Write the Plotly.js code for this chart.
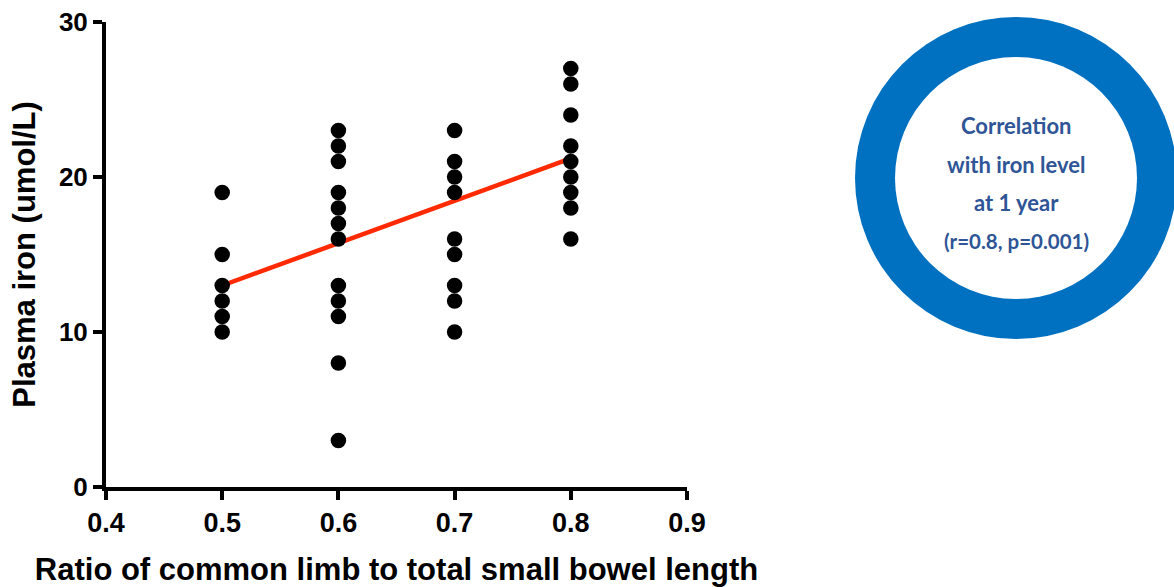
<!DOCTYPE html>
<html>
<head>
<meta charset="utf-8">
<script src="https://cdn.plot.ly/plotly-3.0.1.min.js"></script>
<style>html,body{margin:0;padding:0;background:#fff;}#chart{width:1174px;height:587px;}</style>
</head>
<body>
<div id="chart"></div>
<script>
// Data
const ratio05 = [0.5, 0.5, 0.5, 0.5, 0.5, 0.5];
const iron05 = [19, 15, 13, 12, 11, 10];
const ratio06 = [0.6, 0.6, 0.6, 0.6, 0.6, 0.6, 0.6, 0.6, 0.6, 0.6, 0.6, 0.6];
const iron06 = [23, 22, 21, 19, 18, 17, 16, 13, 12, 11, 8, 3];
const ratio07 = [0.7, 0.7, 0.7, 0.7, 0.7, 0.7, 0.7, 0.7, 0.7];
const iron07 = [23, 21, 20, 19, 16, 15, 13, 12, 10];
const ratio08 = [0.8, 0.8, 0.8, 0.8, 0.8, 0.8, 0.8, 0.8, 0.8];
const iron08 = [27, 26, 24, 22, 21, 20, 19, 18, 16];
const fitX = [0.5, 0.8];
const fitY = [13.0, 21.2];
const xTicks = [0.4, 0.5, 0.6, 0.7, 0.8, 0.9];
const yTicks = [0, 10, 20, 30];
const noteLines = ["Correlation", "with iron level", "at 1 year", "(r=0.8, p=0.001)"];

const W = 1174, H = 587;
const L = 106, R = 687, T = 22, B = 487;
const pw = R - L, ph = B - T;
const px = v => (v - L) / pw;
const py = v => (B - v) / ph;

const allX = [].concat(ratio05, ratio06, ratio07, ratio08);
const allY = [].concat(iron05, iron06, iron07, iron08);

const traces = [
  {x: fitX, y: fitY, mode: 'lines', line: {color: '#FF2A00', width: 4.5}, hoverinfo: 'skip', showlegend: false},
  {x: allX, y: allY, mode: 'markers', marker: {color: '#000', size: 15.5}, showlegend: false}
];

const cx = 1016, cy = 178, rOut = 161, rIn = 121;
const shapes = [
  {type: 'circle', xref: 'paper', yref: 'paper', x0: px(cx - rOut), x1: px(cx + rOut), y0: py(cy + rOut), y1: py(cy - rOut), fillcolor: '#0070C0', line: {width: 0}, layer: 'below'},
  {type: 'circle', xref: 'paper', yref: 'paper', x0: px(cx - rIn), x1: px(cx + rIn), y0: py(cy + rIn), y1: py(cy - rIn), fillcolor: '#FFFFFF', line: {width: 0}, layer: 'below'}
];
const lineY = [125, 164, 202, 241];
const annotations = noteLines.map((t, i) => ({
  text: '<b>' + t + '</b>', xref: 'paper', yref: 'paper', x: px(cx), y: py(lineY[i]),
  xanchor: 'center', yanchor: 'middle', showarrow: false,
  font: {family: 'Lato, "Open Sans", sans-serif', size: i === 3 ? 20.5 : 22, color: '#2F5597'}
}));

const FAM = '"Liberation Sans", Arial, sans-serif';
const layout = {
  width: W, height: H,
  margin: {l: L, r: W - R, t: T, b: H - B},
  paper_bgcolor: '#fff', plot_bgcolor: 'rgba(0,0,0,0)',
  showlegend: false,
  xaxis: {
    range: [0.4, 0.9], tickvals: xTicks, ticktext: xTicks.map(v => '<b>' + v.toFixed(1) + '</b>'),
    showgrid: false, zeroline: false, showline: true, linecolor: '#000', linewidth: 4,
    ticks: 'outside', ticklen: 9, tickwidth: 4, tickcolor: '#000', tickfont: {family: FAM, size: 27, color: '#000'},
    title: {text: '<b>Ratio of common limb to total small bowel length</b>', font: {family: FAM, size: 31, color: '#000'}, standoff: 22}
  },
  yaxis: {
    range: [0, 30], tickvals: yTicks, ticktext: yTicks.map(v => '<b>' + v + '</b>'),
    showgrid: false, zeroline: false, showline: true, linecolor: '#000', linewidth: 4,
    ticks: 'outside', ticklen: 9, tickwidth: 4, tickcolor: '#000', tickfont: {family: FAM, size: 26, color: '#000'},
    title: {text: '<b>Plasma iron (umol/L)</b>', font: {family: FAM, size: 31, color: '#000'}, standoff: 15}
  },
  shapes: shapes,
  annotations: annotations
};

Plotly.newPlot('chart', traces, layout, {displayModeBar: false, staticPlot: true});
</script>
</body>
</html>
